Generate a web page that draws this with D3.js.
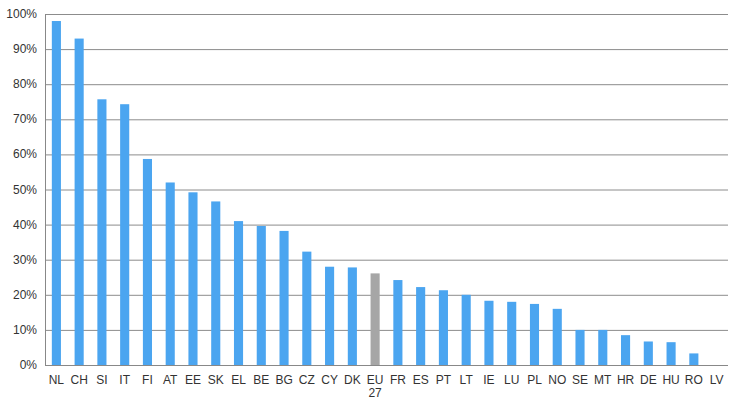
<!DOCTYPE html>
<html><head><script src="https://d3js.org/d3.v7.min.js"></script>
<style>body{margin:0;background:#fff}</style></head><body>
<svg id="c" width="738" height="401"></svg>
<script>
const categories=["NL","CH","SI","IT","FI","AT","EE","SK","EL","BE","BG","CZ","CY","DK","EU 27","FR","ES","PT","LT","IE","LU","PL","NO","SE","MT","HR","DE","HU","RO","LV"];
const values=[98,93,75.7,74.3,58.7,52,49.2,46.6,41,39.6,38.2,32.3,28,27.8,26.1,24.2,22.2,21.3,20,18.3,18,17.4,16,10,10,8.5,6.7,6.5,3.3,0];
const ticks=[0,10,20,30,40,50,60,70,80,90,100];
const svg=d3.select("#c");
const L=45,R=728,T=14,B=365;
const x=d3.scaleBand().domain(categories).range([L,R]).paddingInner(0.6).paddingOuter(0.3);
const y=d3.scaleLinear().domain([0,100]).range([B,T]);
svg.append("g").selectAll("line").data(ticks).join("line")
 .attr("x1",L).attr("x2",R).attr("y1",d=>y(d)+0.5).attr("y2",d=>y(d)+0.5)
 .attr("stroke",d=>d===0?"#888":"#8c8c8c").attr("stroke-width",1);
svg.append("line").attr("x1",L+0.5).attr("x2",L+0.5).attr("y1",T).attr("y2",B).attr("stroke","#888");
svg.append("g").selectAll("text").data(ticks).join("text")
 .attr("x",L-8).attr("y",d=>y(d)+4).attr("text-anchor","end")
 .attr("font-family","Liberation Sans, Arial").attr("font-size",12).attr("fill","#333").text(d=>d+"%");
svg.append("g").selectAll("rect").data(values).join("rect")
 .attr("x",(d,i)=>x(categories[i])).attr("width",x.bandwidth())
 .attr("y",d=>y(d)).attr("height",d=>B-y(d))
 .attr("fill",(d,i)=>categories[i]==="EU 27"?"#a6a6a6":"#4ba5f0");
const lab=svg.append("g").selectAll("text").data(categories).join("text")
 .attr("x",d=>x(d)+x.bandwidth()/2).attr("y",384).attr("text-anchor","middle")
 .attr("font-family","Liberation Sans, Arial").attr("font-size",12).attr("fill","#333");
lab.each(function(d){const p=d.split(" ");const t=d3.select(this);
 p.forEach((s,k)=>t.append("tspan").attr("x",x(d)+x.bandwidth()/2).attr("dy",k?13:0).text(s));});
</script></body></html>
